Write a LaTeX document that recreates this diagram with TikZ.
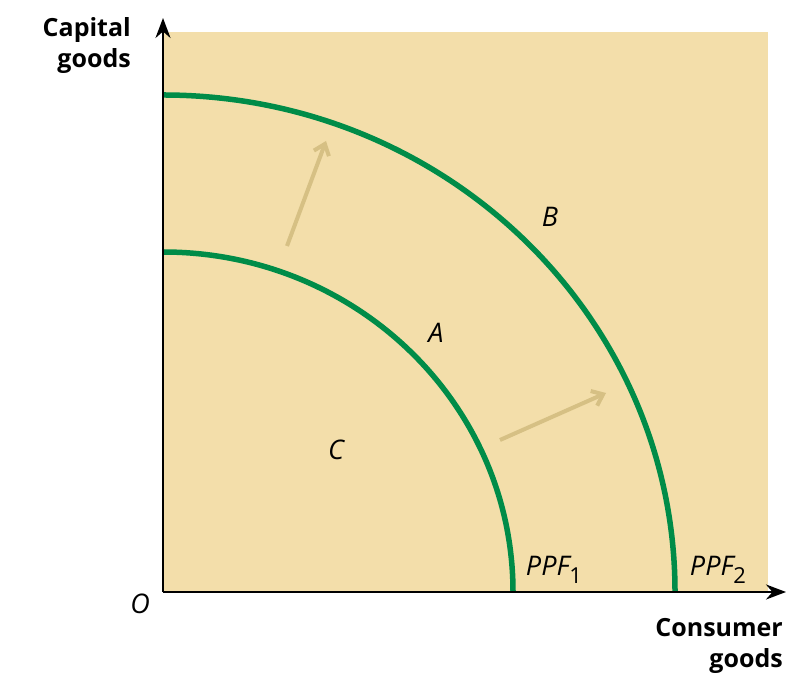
\documentclass[tikz,border=0pt]{standalone}
\usepackage{fontspec}
\setmainfont{Open Sans}
\usetikzlibrary{arrows.meta}
\definecolor{bgtan}{RGB}{243,222,170}
\definecolor{ppfgreen}{RGB}{0,140,72}
\definecolor{shiftarrow}{RGB}{214,192,132}
\newcommand{\subnum}[1]{\raisebox{-8pt}{\fontsize{22}{22}\selectfont\upshape #1}}
\tikzset{
  axisarr/.style={line width=2.4pt,-{Stealth[length=20pt,width=15pt]}},
  ppf/.style={line width=5.5pt,ppfgreen},
  shiftarr/.style={line width=4pt,shiftarrow,-{Straight Barb[length=10pt,width=16pt,line width=4pt]}},
  axlabel/.style={font=\fontsize{25}{31}\selectfont\bfseries,inner sep=0pt},
  ptlabel/.style={font=\fontsize{27}{28}\selectfont\itshape}
}
\begin{document}
\begin{tikzpicture}[x=1pt,y=1pt]
\useasboundingbox (0,0) rectangle (799,682);
\fill[bgtan] (163,90) rectangle (768,650);
\coordinate (O) at (163,90);
\coordinate (ytop) at (163,664);
\coordinate (xend) at (786,90);
\draw[ppf] (513,90) arc[start angle=0,end angle=90,x radius=350,y radius=340];
\draw[ppf] (675,90) arc[start angle=0,end angle=90,x radius=512,y radius=497];
\draw[axisarr] (O) -- (ytop);
\draw[axisarr] (O) -- (xend);
\coordinate (a1s) at (287,436);
\coordinate (a1e) at (326,541);
\coordinate (a2s) at (500,242);
\coordinate (a2e) at (606,289);
\draw[shiftarr] (a1s) -- (a1e);
\draw[shiftarr] (a2s) -- (a2e);
\node[axlabel,align=right,anchor=north east] (cap) at (131,665) {Capital\\goods};
\node[axlabel,align=right,anchor=north east] (con) at (783,64) {Consumer\\goods};
\node[ptlabel] (B) at (550,465) {B};
\node[ptlabel] (A) at (436,349) {A};
\node[ptlabel] (C) at (336,232) {C};
\node[ptlabel] (O1) at (140,78) {O};
\node[ptlabel] (P1) at (554,112) {PPF\subnum{1}};
\node[ptlabel] (P2) at (718,112) {PPF\subnum{2}};
\end{tikzpicture}
\end{document}
